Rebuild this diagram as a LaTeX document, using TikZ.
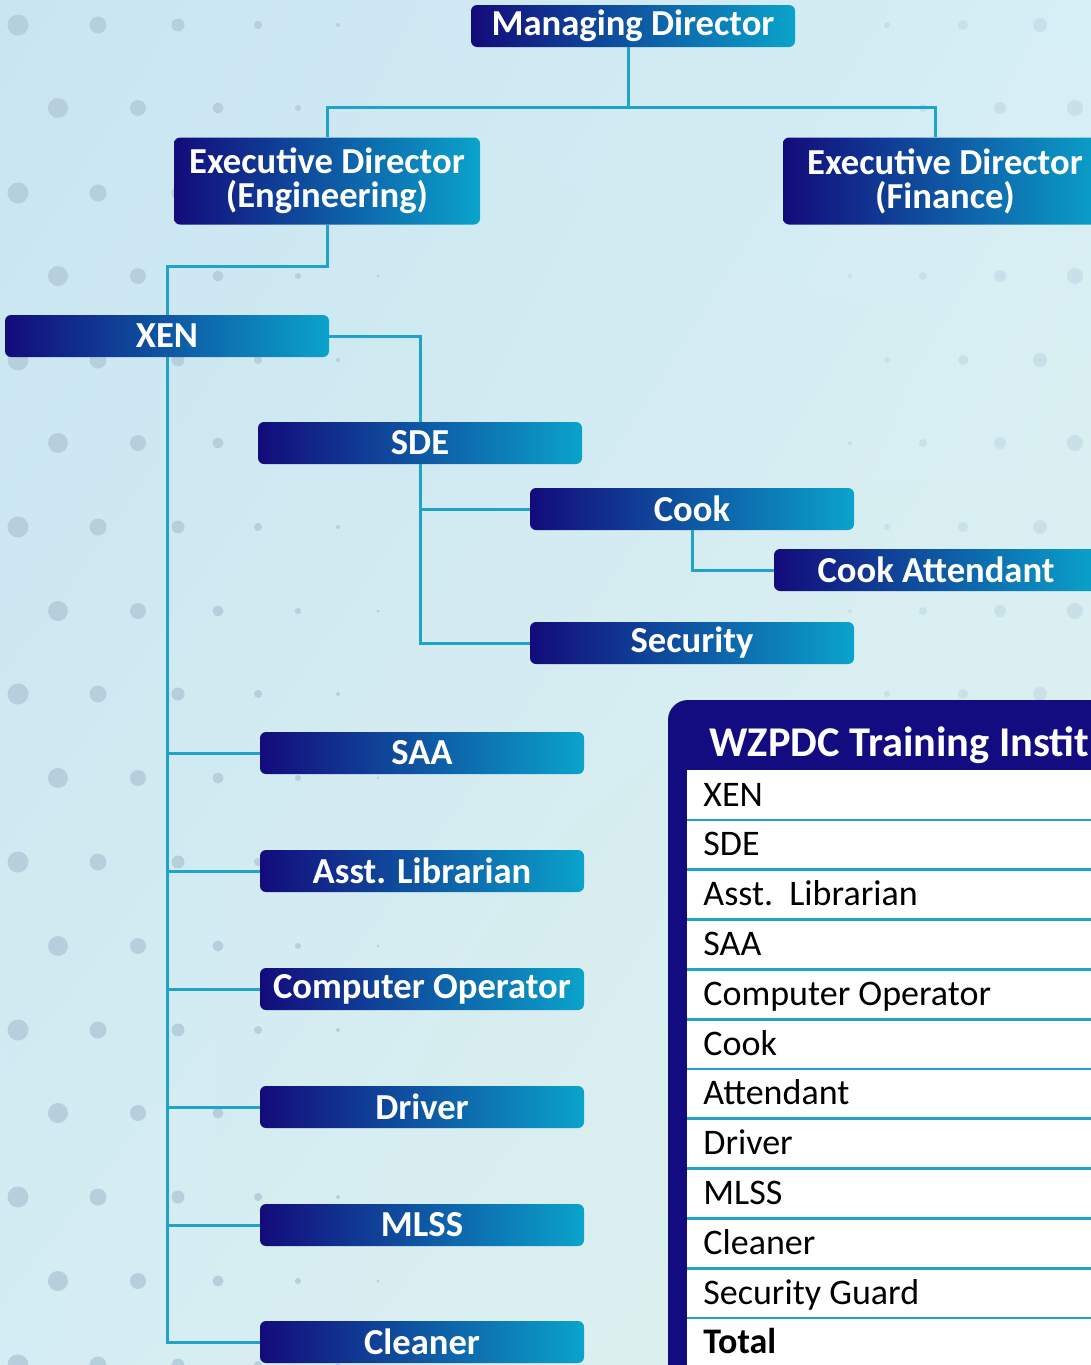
\documentclass[tikz,border=0pt]{standalone}
\usepackage{fontspec}
\setmainfont{Carlito}
\usepackage{tikz}
\usetikzlibrary{positioning, shadings}

\definecolor{boxnavy}{HTML}{130B7B}
\definecolor{boxteal}{HTML}{0AA3CB}
\definecolor{linkblue}{HTML}{20A2CA}
\definecolor{dotgrey}{HTML}{B6CFDD}
\definecolor{tabnavy}{HTML}{120C80}
\definecolor{bgA}{HTML}{C8E5F1}
\definecolor{bgB}{HTML}{D6EEF5}
\definecolor{bgC}{HTML}{D4ECF3}
\definecolor{bgD}{HTML}{E0F1EB}

\tikzset{
  box/.style={rectangle, rounded corners=3pt, left color=boxnavy, right color=boxteal,
    text=white, font=\bfseries\fontsize{18.3}{17}\selectfont, align=center,
    minimum width=162pt, minimum height=21pt, inner sep=0pt},
  bigbox/.style={box, minimum width=153pt, minimum height=43.5pt},
  link/.style={draw=linkblue, line width=1.5pt},
  rowline/.style={draw=linkblue, line width=1.4pt},
  rowtext/.style={anchor=base west, inner sep=0pt, text=black, font=\fontsize{18}{20}\selectfont},
}

\begin{document}
\begin{tikzpicture}[x=0.5pt, y=-0.5pt]
\useasboundingbox (0,0) rectangle (1091,1365);
\clip (0,0) rectangle (1091,1365);
% background and dots
\fill[upper left=bgA, upper right=bgB, lower left=bgC, lower right=bgD] (0,0) rectangle (1091,1365);
\foreach \y in {25,193,360,527,694,862,1030,1197,1365}
  \foreach \x/\s in {18/10.5,98/8.5,178/6.5,258/4,338/2}
    \fill[dotgrey] (\x,\y) circle[radius=\s*0.5pt];
\foreach \y in {108,276,443,611,778,946,1113,1281}
  \foreach \x/\s in {58/10,138/8,218/5.5,298/3,378/1.5}
    \fill[dotgrey] (\x,\y) circle[radius=\s*0.5pt];
\foreach \y in {25,193,360,527,694}
  \foreach \x/\s in {887/3,963/5,1040/7}
    \fill[dotgrey, opacity=0.45] (\x,\y) circle[radius=\s*0.5pt];
\foreach \y in {108,276,443,611}
  \foreach \x/\s in {850/2,923/4,1000/6,1075/8}
    \fill[dotgrey, opacity=0.45] (\x,\y) circle[radius=\s*0.5pt];

% chart
\node[box] (md) at (633,26) {Managing Director};
\node[bigbox] (edeng) at (327,181) {Executive Director\\(Engineering)};
\node[bigbox, minimum width=162pt] (edfin) at (945,181) {Executive Director\\(Finance)};
\node[box] (xen) at (167,336) {XEN};
\node[box] (sde) at (420,443) {SDE};
\node[box] (cook) at (692,509) {Cook};
\node[box] (cookatt) at (936,570) {Cook Attendant};
\node[box] (sec) at (692,643) {Security};
\foreach \name/\txt/\y in {saa/SAA/753, lib/Asst. Librarian/871, comp/Computer Operator/989,
    drv/Driver/1107, mlss/MLSS/1225, clean/Cleaner/1342}
  \node[box] (\name) at (422,\y) {\txt};

\draw[link] (md.south) ++(-5,0) -- ++(0,60) coordinate (mdfork) -| (edeng.north);
\draw[link] (mdfork) -| ([xshift=-5pt]edfin.north);
\draw[link] (edeng.south) -- ++(0,42) -| (xen.north);
\draw[link] (xen.east) -| (sde.north);
\draw[link] (xen.south) |- (clean.west);
\foreach \name in {saa,lib,comp,drv,mlss}
  \draw[link] (xen.south |- \name.west) -- (\name.west);
\draw[link] (sde.south) |- (sec.west);
\draw[link] (sde.south |- cook.west) -- (cook.west);
\draw[link] (cook.south) |- (cookatt.west);

% staff table
\fill[tabnavy, rounded corners=10pt] (668,700) rectangle (1110,1390);
\fill[white] (687,770) rectangle (1110,1390);
\node[anchor=base west, inner sep=0pt, text=white, font=\bfseries\fontsize{21.2}{21}\selectfont]
  (tabhead) at (709,756) {WZPDC Training Instit};
\foreach \txt [count=\i] in {XEN, SDE, {Asst.~~Librarian}, SAA, {Computer Operator}, Cook,
    Attendant, Driver, MLSS, Cleaner, {Security Guard}, \textbf{Total}}
  \node[rowtext] (row\i) at (703,{806+49.8*(\i-1)}) {\txt};
\foreach \i in {1,...,11}
  \draw[rowline] (687,{820+49.8*(\i-1)}) -- (1091,{820+49.8*(\i-1)});
\end{tikzpicture}
\end{document}
